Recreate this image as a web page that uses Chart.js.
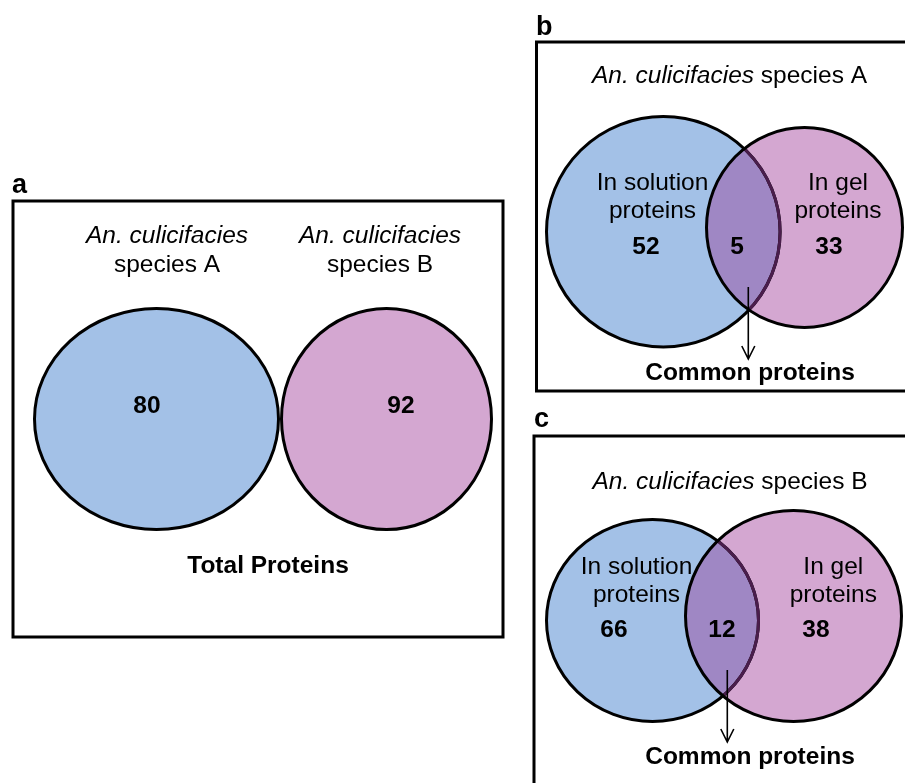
<!DOCTYPE html>
<html>
<head>
<meta charset="utf-8">
<script src="https://cdn.jsdelivr.net/npm/chart.js@4/dist/chart.umd.min.js"></script>
<style>
  html, body { margin: 0; padding: 0; background: #ffffff; }
  canvas { display: block; }
</style>
</head>
<body>
<canvas id="venn" width="905" height="783"></canvas>
<script>
// ---- Values ----
const panelLetters = ['a', 'b', 'c'];
const genusLabel = 'An. culicifacies';
const speciesNames = ['species A', 'species B'];
const totalTitle = 'Total Proteins';
const totalCounts = [80, 92];                 // species A, species B
const setNames = [['In solution', 'proteins'], ['In gel', 'proteins']];
const speciesACounts = [52, 5, 33];           // in solution only, common, in gel only
const speciesBCounts = [66, 12, 38];
const commonLabel = 'Common proteins';

// ---- Layout (drawing units == scale units) ----
const FONT = '"Liberation Sans", Arial, Helvetica, sans-serif';
const TEXT_SIZE = 24.5;
const COLORS = {
  ink: '#000000',
  left: '#a3c1e7',
  right: '#d4a7d1',
  both: '#9f87c4',
  hiddenEdge: '#4a1d4c'
};
const LAYOUT = {
  a: {
    frame: { l: 13, t: 201, r: 503, b: 637, open: false },
    letter: { x: 12, y: 193 },
    titles: [{ x: 167, y1: 243, y2: 272 }, { x: 380, y1: 243, y2: 272 }],
    left: { cx: 156.5, cy: 419, rx: 122, ry: 110.5 },
    right: { cx: 386.5, cy: 419, rx: 105, ry: 110.5 },
    counts: [{ x: 147, y: 413 }, { x: 401, y: 413 }],
    caption: { x: 268, y: 572.5 }
  },
  b: {
    frame: { l: 536.5, t: 42, r: 915, b: 391, open: true },
    letter: { x: 536, y: 35 },
    title: { x: 729.5, y: 83 },
    left: { cx: 663.3, cy: 231.7, rx: 116.8, ry: 115.2 },
    right: { cx: 804.5, cy: 227.5, rx: 98, ry: 100 },
    setLabels: [{ x: 652.5, y1: 190, y2: 218 }, { x: 838, y1: 190, y2: 218 }],
    counts: [{ x: 646, y: 253.5 }, { x: 737, y: 253.5 }, { x: 829, y: 253.5 }],
    arrow: { x: 748.3, y1: 287, y2: 359 },
    caption: { x: 750, y: 380 }
  },
  c: {
    frame: { l: 534, t: 436, r: 915, b: 800, open: true },
    letter: { x: 534, y: 427 },
    title: { x: 730, y: 488.5 },
    left: { cx: 652.5, cy: 620.5, rx: 106, ry: 101 },
    right: { cx: 793.5, cy: 616, rx: 108, ry: 105.5 },
    setLabels: [{ x: 636.5, y1: 573.5, y2: 601.5 }, { x: 833.3, y1: 573.5, y2: 601.5 }],
    counts: [{ x: 614, y: 637 }, { x: 722, y: 637 }, { x: 816, y: 637 }],
    arrow: { x: 727.3, y1: 670, y2: 742 },
    caption: { x: 750, y: 763.5 }
  }
};

// ---- Drawing plugin: every coordinate goes through the chart scales ----
const vennPlugin = {
  id: 'vennDiagrams',
  afterDraw(chart) {
    const ctx = chart.ctx;
    const sx = chart.scales.x, sy = chart.scales.y;
    const px = v => sx.getPixelForValue(v);
    const py = v => sy.getPixelForValue(v);

    function ellipsePath(e) {
      ctx.beginPath();
      ctx.ellipse(px(e.cx), py(e.cy),
        Math.abs(px(e.cx + e.rx) - px(e.cx)),
        Math.abs(py(e.cy + e.ry) - py(e.cy)), 0, 0, Math.PI * 2);
    }

    function text(str, x, y, weight, style) {
      ctx.font = `${style || 'normal'} ${weight || 'normal'} ${TEXT_SIZE}px ${FONT}`;
      ctx.fillStyle = COLORS.ink;
      ctx.textAlign = 'center';
      ctx.textBaseline = 'alphabetic';
      ctx.fillText(str, px(x), py(y));
    }

    function mixedTitle(species, pos) {
      ctx.textBaseline = 'alphabetic';
      ctx.textAlign = 'left';
      ctx.fillStyle = COLORS.ink;
      const italic = `italic normal ${TEXT_SIZE}px ${FONT}`;
      const upright = `normal normal ${TEXT_SIZE}px ${FONT}`;
      ctx.font = italic;
      const w1 = ctx.measureText(genusLabel).width;
      ctx.font = upright;
      const rest = ' ' + species;
      const w2 = ctx.measureText(rest).width;
      const start = px(pos.x) - (w1 + w2) / 2;
      ctx.font = italic;
      ctx.fillText(genusLabel, start, py(pos.y));
      ctx.font = upright;
      ctx.fillText(rest, start + w1, py(pos.y));
    }

    function frame(f) {
      ctx.save();
      ctx.strokeStyle = COLORS.ink;
      ctx.lineWidth = 3;
      ctx.beginPath();
      if (f.open) {
        ctx.moveTo(px(f.r), py(f.t));
        ctx.lineTo(px(f.l), py(f.t));
        ctx.lineTo(px(f.l), py(f.b));
        ctx.lineTo(px(f.r), py(f.b));
      } else {
        ctx.rect(px(f.l), py(f.t), px(f.r) - px(f.l), py(f.b) - py(f.t));
      }
      ctx.stroke();
      ctx.restore();
    }

    function letter(ch, pos) {
      ctx.font = `bold 27px ${FONT}`;
      ctx.fillStyle = COLORS.ink;
      ctx.textAlign = 'left';
      ctx.textBaseline = 'alphabetic';
      ctx.fillText(ch, px(pos.x), py(pos.y));
    }

    function pair(L, R, overlap) {
      ctx.save();
      ellipsePath(L); ctx.fillStyle = COLORS.left; ctx.fill();
      ellipsePath(R); ctx.fillStyle = COLORS.right; ctx.fill();
      if (overlap) {
        ctx.save();
        ellipsePath(L); ctx.clip();
        ellipsePath(R); ctx.fillStyle = COLORS.both; ctx.fill();
        ctx.restore();
      }
      ctx.lineWidth = 3;
      ellipsePath(L); ctx.strokeStyle = COLORS.ink; ctx.stroke();
      if (overlap) {
        ctx.save();
        ellipsePath(R); ctx.clip();
        ellipsePath(L); ctx.strokeStyle = COLORS.hiddenEdge; ctx.stroke();
        ctx.restore();
      }
      ellipsePath(R); ctx.strokeStyle = COLORS.ink; ctx.stroke();
      ctx.restore();
    }

    function arrow(a) {
      ctx.save();
      ctx.strokeStyle = COLORS.ink;
      ctx.lineWidth = 1.6;
      ctx.beginPath();
      ctx.moveTo(px(a.x), py(a.y1));
      ctx.lineTo(px(a.x), py(a.y2));
      ctx.moveTo(px(a.x - 6.5), py(a.y2 - 13));
      ctx.lineTo(px(a.x), py(a.y2));
      ctx.lineTo(px(a.x + 6.5), py(a.y2 - 13));
      ctx.stroke();
      ctx.restore();
    }

    // Panel a: total proteins per species
    const A = LAYOUT.a;
    frame(A.frame);
    letter(panelLetters[0], A.letter);
    speciesNames.forEach((s, i) => {
      text(genusLabel, A.titles[i].x, A.titles[i].y1, 'normal', 'italic');
      text(s, A.titles[i].x, A.titles[i].y2);
    });
    pair(A.left, A.right, false);
    totalCounts.forEach((v, i) => text(String(v), A.counts[i].x, A.counts[i].y, 'bold'));
    text(totalTitle, A.caption.x, A.caption.y, 'bold');

    // Panels b and c: in-solution vs in-gel proteins for each species
    [[LAYOUT.b, speciesACounts, 0], [LAYOUT.c, speciesBCounts, 1]].forEach(([P, counts, k]) => {
      frame(P.frame);
      letter(panelLetters[k + 1], P.letter);
      mixedTitle(speciesNames[k], P.title);
      pair(P.left, P.right, true);
      setNames.forEach((lines, i) => {
        text(lines[0], P.setLabels[i].x, P.setLabels[i].y1);
        text(lines[1], P.setLabels[i].x, P.setLabels[i].y2);
      });
      counts.forEach((v, i) => text(String(v), P.counts[i].x, P.counts[i].y, 'bold'));
      arrow(P.arrow);
      text(commonLabel, P.caption.x, P.caption.y, 'bold');
    });
  }
};

new Chart(document.getElementById('venn'), {
  type: 'scatter',
  data: { datasets: [] },
  options: {
    responsive: false,
    animation: false,
    devicePixelRatio: 1,
    layout: { padding: 0 },
    scales: {
      x: { type: 'linear', min: 0, max: 905, display: false },
      y: { type: 'linear', min: 0, max: 783, reverse: true, display: false }
    },
    plugins: { legend: { display: false }, tooltip: { enabled: false } }
  },
  plugins: [vennPlugin]
});
</script>
</body>
</html>
